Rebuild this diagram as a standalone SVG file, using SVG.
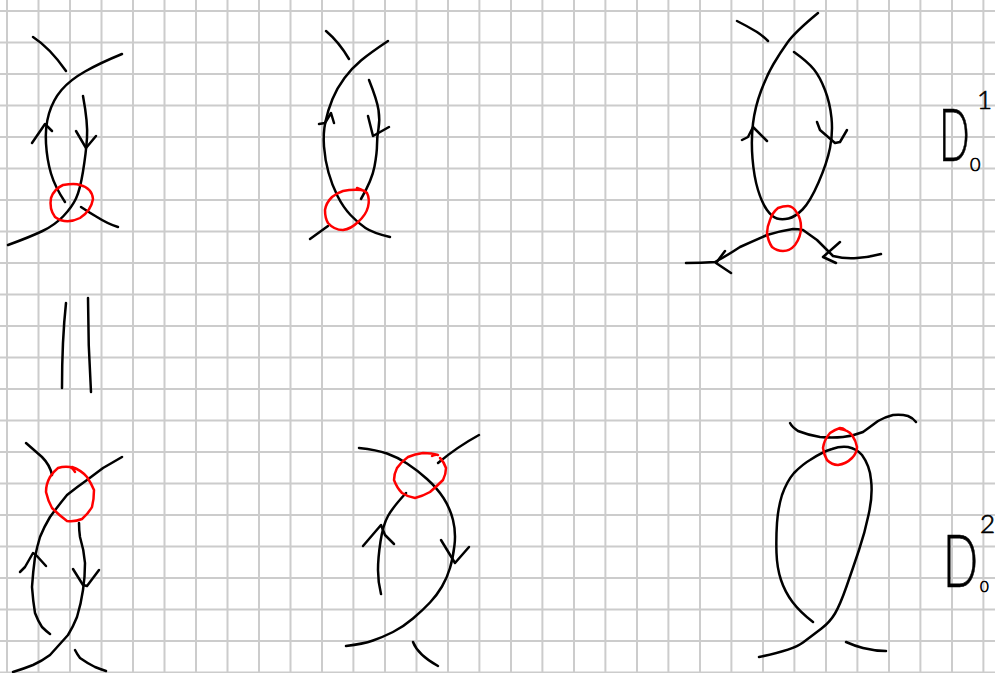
<svg xmlns="http://www.w3.org/2000/svg" width="995" height="673" viewBox="0 0 995 673">
<style>
.g{fill:none;stroke:#ccc;stroke-width:2}
.k,.r{fill:none;stroke-width:2.5;stroke-linecap:round;stroke-linejoin:round}
.k{stroke:#000}
.r{stroke:#f00}
text{font-family:Lato,"Liberation Sans",sans-serif;font-weight:300;fill:#000;stroke:#000;stroke-width:.7}
</style>
<rect width="995" height="673" fill="#fff"/>
<path id="grid" class="g" d="M7 0V673M38.5 0V673M70 0V673M101.5 0V673M133 0V673M164.5 0V673M196 0V673M227.5 0V673M259 0V673M290.5 0V673M322 0V673M353.4 0V673M385 0V673M416.5 0V673M448 0V673M479.4 0V673M511 0V673M542.4 0V673M574 0V673M605.4 0V673M637 0V673M668.4 0V673M700 0V673M731.4 0V673M763 0V673M794.4 0V673M826 0V673M857.4 0V673M889 0V673M920.4 0V673M952 0V673M983.4 0V673M0 11H995M0 42.5H995M0 74H995M0 105.5H995M0 137H995M0 168.5H995M0 200H995M0 231.5H995M0 263H995M0 294.5H995M0 326H995M0 357.5H995M0 389H995M0 420.5H995M0 452H995M0 483.5H995M0 515H995M0 546.5H995M0 578H995M0 609.5H995M0 641H995M0 672.5H995"/>

<g id="sketch-top-left">
<path class="k" d="M33 37Q50 48 66 71"/>
<path class="k" d="M122 54Q100 63 85 71.5Q70 80 61.5 90Q53 100 49 113.5Q45 127 46 143.5Q47 160 51 173.5Q55 187 65 202"/>
<path class="k" d="M83 96Q88 123 87 138Q86 153 83 171.5Q80 190 76 198.5Q72 207 63.5 216Q55 225 42.5 231Q30 237 8 245"/>
<path class="k" d="M32 143L45 124L52 131"/>
<path class="k" d="M76 131L86 148L96 136"/>
<path class="k" d="M81 207Q90 213 97 217Q108 224 118 227"/>
<path class="r" d="M80 185Q75 183 63 185Q54 189 51 198Q49 209 55 217Q66 225 80 218Q91 211 93 199Q92 188 80 185"/>
</g>

<g id="sketch-top-middle">
<path class="k" d="M326 31Q339 42 349 59"/>
<path class="k" d="M388 41Q370 53 361 60.5Q352 68 344.5 78Q337 88 332.5 99Q328 110 325.5 121.5Q323 133 324 146.5Q325 160 328.5 172.5Q332 185 337.5 196Q343 207 350.5 215Q358 223 365.5 228Q373 233 390 237"/>
<path class="k" d="M369 80Q377 100 378.5 110Q380 120 378.5 128.5Q377 137 377 145Q377 153 374.5 166.5Q372 180 361 199"/>
<path class="k" d="M319 124L325 123L331 113L334 123"/>
<path class="k" d="M368 116L373 136L389 127"/>
<path class="k" d="M310 239L328 226"/>
<path class="r" d="M357 188L362 190Q352 189 343 191Q337 193 332 197Q326 203 325 210Q325 218 328 223Q334 230 343 230Q351 229 358 222Q366 215 368 207Q370 199 367 193Q364 190 361 190"/>
</g>

<g id="sketch-top-right">
<path class="k" d="M737 21Q747 26 757 32Q763 36 768 41"/>
<path class="k" d="M818 13Q795 32 787.5 42.5Q780 53 773.5 64Q767 75 761 91Q755 107 753 123.5Q751 140 752.5 158.5Q754 177 758 190Q762 203 767 210Q772 217 777 218.5Q782 220 788.5 218.5Q795 217 802.5 209.5Q810 202 818.5 182.5Q827 163 830 148Q833 133 831.5 118Q830 103 825 90Q820 77 814 69.5Q808 62 794 52"/>
<path class="k" d="M742 140L748 137L753 127L767 141"/>
<path class="k" d="M817 122L820 130L835 143L840 142L847 130"/>
<path class="k" d="M686 263Q701 263 715 262Q728 255 740 247Q753 241 767 235Q780 231 793 229Q798 229 803 230Q810 235 817 240Q825 248 833 256Q845 259 857 258Q870 257 881 254"/>
<path class="k" d="M725 251L716 263L731 273"/>
<path class="k" d="M840 242L823 257L836 263"/>
<path class="r" d="M788 206Q783 206 778 208Q772 213 770 220Q767 227 767 233Q768 241 772 247Q777 251 783 251Q790 251 795 245Q801 237 801 227Q801 219 797 213Q793 206 788 206"/>
</g>

<g id="equals">
<path class="k" d="M66 303Q62 340 62 388"/>
<path class="k" d="M88 298Q88 345 91 392"/>
</g>

<g id="sketch-bottom-left">
<path class="k" d="M26 443Q34 450 42 457Q50 465 52 475"/>
<path class="k" d="M122 457Q110 464 103 468Q95 474 87 480Q77 487 67 495Q58 506 50 517Q44 527 40 537Q37 547 35 557Q33 572 32 587Q33 601 35 613Q38 621 42 627Q46 631 50 634"/>
<path class="k" d="M20 572L25 567L33 553L36 555L46 566"/>
<path class="k" d="M79 523Q79 530 80 537Q84 550 85 563Q85 577 83 590Q81 604 77 617Q73 627 68 635Q59 645 50 655Q42 661 33 665Q23 669 13 672"/>
<path class="k" d="M73 569L83 585L87 586L99 570"/>
<path class="k" d="M75 650Q77 654 80 658Q87 663 95 667Q100 669 106 671"/>
<path class="r" d="M75 472Q73 468 70 467Q64 466 58 468Q53 472 50 477Q46 484 46 492Q48 501 52 508Q59 515 67 521Q75 522 82 519Q88 514 92 507Q94 499 94 490Q91 483 87 477Q81 470 72 467"/>
</g>

<g id="sketch-bottom-middle">
<path class="k" d="M359 448Q377 450 387 453.5Q397 457 407 463.5Q417 470 427 479Q437 488 443.5 498Q450 508 453 520Q456 532 454.5 545Q453 558 450 568Q447 578 442 586.5Q437 595 430 602.5Q423 610 413 618.5Q403 627 393 632Q383 637 373 640.5Q363 644 346 646"/>
<path class="k" d="M479 435Q457 447 438 463"/>
<path class="k" d="M406 493Q393 507 388 516Q383 525 380.5 541.5Q378 558 378 570Q378 582 381 594"/>
<path class="k" d="M363 546L381 525L385 535L394 544"/>
<path class="k" d="M441 540L455 563L469 547"/>
<path class="k" d="M413 642Q418 655 438 666"/>
<path class="r" d="M432 456Q436 454 438 455Q432 453 423 453Q415 454 408 457Q401 462 397 468Q394 474 394 480Q397 488 402 493Q408 497 415 498Q423 496 430 492Q437 486 443 480Q446 474 446 468Q444 462 440 458"/>
</g>

<g id="sketch-bottom-right">
<path class="k" d="M790 423Q792 427 798 431Q808 435 820 437Q832 438 843 437Q853 436 863 432Q870 427 878 421Q885 417 893 415Q901 414 908 416Q913 418 916 422"/>
<path class="k" d="M813 622Q800 612 792.5 602Q785 592 781 580Q777 568 776.5 553Q776 538 777 523Q778 508 782 495Q787 481 794 473Q803 464 810 460Q822 452 832 449Q840 446 848 447Q857 449 862 455Q870 466 871 480Q873 495 868.5 515Q865 532 859 550Q853 568 846.5 586.5Q840 605 835 613.5Q830 622 821.5 628.5Q813 635 803 642.5Q793 650 759 657"/>
<path class="k" d="M846 642Q855 646 863 648Q875 651 886 651"/>
<path class="r" d="M845 430Q843 428 840 428Q834 430 830 433Q824 440 823 448Q824 455 827 460Q832 465 838 465Q846 464 852 458Q857 453 857 447Q856 441 852 435Q848 430 840 429"/>
</g>

<g id="label-d1">
<text transform="translate(939 161) scale(.56 1)" font-size="72">D</text>
<text x="970" y="171" font-size="18">0</text>
<text x="977" y="109" font-size="26">1</text>
</g>
<g id="label-d2">
<text transform="translate(943 587) scale(.64 1)" font-size="72">D</text>
<text x="980" y="592" font-size="15">0</text>
<text x="980" y="533" font-size="26">2</text>
</g>
</svg>
